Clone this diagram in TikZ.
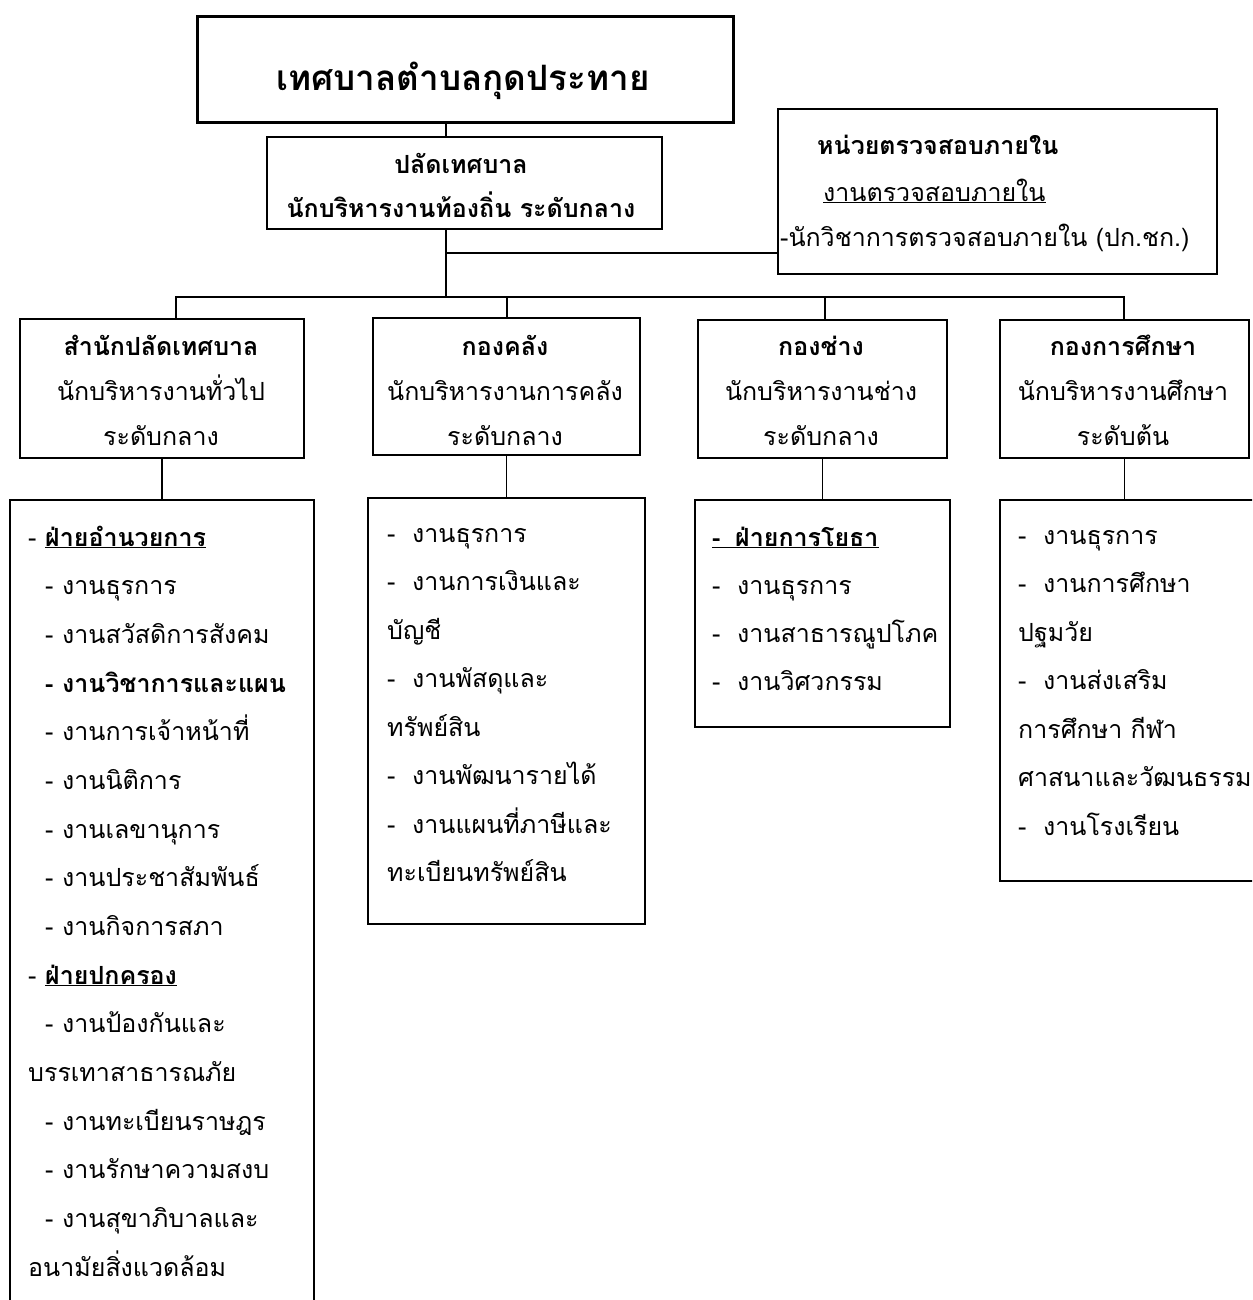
\documentclass[tikz,border=0pt]{standalone}
\usepackage{fontspec}
\setmainfont[Script=Thai]{Loma}
\newcommand\da{\makebox[17pt][l]{-}}
\newcommand\db{\makebox[25pt][l]{-}}
\begin{document}
\begin{tikzpicture}[x=1pt,y=-1pt,
  box/.style={draw, line width=2pt, inner sep=0pt, anchor=north west},
  thinbox/.style={draw, line width=1.6pt, inner sep=0pt, anchor=north west},
  ln/.style={line width=1.5pt},
  ct/.style={anchor=base, inner sep=0pt, font=\fontsize{25}{30}\selectfont},
  lt/.style={anchor=base west, inner sep=0pt, font=\fontsize{25}{30}\selectfont}]
\useasboundingbox (0,0) rectangle (1252,1300);
\fill[white] (0,0) rectangle (1252,1300);
\clip (0,0) rectangle (1252,1300);

% boxes
\node[box, line width=2.6pt, minimum width=536pt, minimum height=106pt] (top) at (196,15) {};
\node[box, minimum width=395pt, minimum height=92pt] (ppd) at (266,136) {};
\node[box, minimum width=439pt, minimum height=165pt] (aud) at (777,108) {};
\node[box, minimum width=284pt, minimum height=139pt] (b1) at (19,318) {};
\node[box, minimum width=267pt, minimum height=137pt] (b2) at (372,317) {};
\node[box, minimum width=249pt, minimum height=138pt] (b3) at (697,319) {};
\node[box, minimum width=249pt, minimum height=138pt] (b4) at (999,319) {};
\node[thinbox, minimum width=304pt, minimum height=900pt] (l1) at (9,499) {};
\node[thinbox, minimum width=277pt, minimum height=426pt] (l2) at (367,497) {};
\node[thinbox, minimum width=255pt, minimum height=227pt] (l3) at (694,499) {};
\node[thinbox, minimum width=300pt, minimum height=381pt] (l4) at (999,499) {};

% connectors
\coordinate (jt) at (446,297);
\coordinate (ja) at (446,253);
\coordinate (bl) at (176,297);
\coordinate (br) at (1124,297);
\coordinate (d2) at (507,297);
\coordinate (d3) at (825,297);
\draw[ln] (top.south -| jt) -- (ppd.north -| jt);
\draw[ln] (ppd.south -| jt) -- (jt);
\draw[ln] (ja) -- (ja -| aud.west);
\draw[ln] (bl |- b1.north) -- (bl) -- (br) -- (br |- b4.north);
\draw[ln] (d2) -- (d2 |- b2.north);
\draw[ln] (d3) -- (d3 |- b3.north);
\draw[ln] (b1.south) -- (b1.south |- l1.north);
\draw[ln] (b2.south) -- (b2.south |- l2.north);
\draw[ln] (b3.south) -- (b3.south |- l3.north);
\draw[ln] (b4.south) -- (b4.south |- l4.north);

% top texts
\node[ct, font=\fontsize{35}{40}\selectfont\bfseries] (tt) at (463,91) {เทศบาลตำบลกุดประทาย};
\node[ct, font=\fontsize{25}{30}\selectfont\bfseries] (pt1) at (461,174) {ปลัดเทศบาล};
\node[ct, font=\fontsize{25}{30}\selectfont\bfseries] (pt2) at (461,217) {นักบริหารงานท้องถิ่น ระดับกลาง};
\node[lt, font=\fontsize{25}{30}\selectfont\bfseries] (at1) at (817,155) {หน่วยตรวจสอบภายใน};
\node[lt] (at2) at (823,201) {\underline{งานตรวจสอบภายใน}};
\node[lt] (at3) at (780,246) {-นักวิชาการตรวจสอบภายใน (ปก.ชก.)};

% level-3 texts
\foreach \n/\cx/\ta/\tb/\tc in {1/161/สำนักปลัดเทศบาล/นักบริหารงานทั่วไป/ระดับกลาง,
  2/505/กองคลัง/นักบริหารงานการคลัง/ระดับกลาง,
  3/821/กองช่าง/นักบริหารงานช่าง/ระดับกลาง,
  4/1123/กองการศึกษา/นักบริหารงานศึกษา/ระดับต้น}{
  \node[ct, font=\fontsize{25}{30}\selectfont\bfseries] (h\n a) at (\cx,355) {\ta};
  \node[ct] (h\n b) at (\cx,400) {\tb};
  \node[ct] (h\n c) at (\cx,445) {\tc};
}

% list 1
\foreach \xx/\txt [count=\i] in {
  28/{\da\textbf{\underline{ฝ่ายอำนวยการ}}},
  45/{\da งานธุรการ},
  45/{\da งานสวัสดิการสังคม},
  45/{\textbf{\da งานวิชาการและแผน}},
  45/{\da งานการเจ้าหน้าที่},
  45/{\da งานนิติการ},
  45/{\da งานเลขานุการ},
  45/{\da งานประชาสัมพันธ์},
  45/{\da งานกิจการสภา},
  28/{\da\textbf{\underline{ฝ่ายปกครอง}}},
  45/{\da งานป้องกันและ},
  28/{บรรเทาสาธารณภัย},
  45/{\da งานทะเบียนราษฎร},
  45/{\da งานรักษาความสงบ},
  45/{\da งานสุขาภิบาลและ},
  28/{อนามัยสิ่งแวดล้อม}}{
  \pgfmathsetmacro\yy{546+48.67*(\i-1)}
  \node[lt] (la\i) at (\xx,\yy) {\txt};
}

% list 2
\foreach \txt [count=\i] in {
  {\db งานธุรการ}, {\db งานการเงินและ}, {บัญชี}, {\db งานพัสดุและ},
  {ทรัพย์สิน}, {\db งานพัฒนารายได้}, {\db งานแผนที่ภาษีและ}, {ทะเบียนทรัพย์สิน}}{
  \pgfmathsetmacro\yy{542+48.5*(\i-1)}
  \node[lt] (lb\i) at (387,\yy) {\txt};
}

% list 3
\foreach \txt [count=\i] in {
  {\textbf{\underline{\makebox[23pt][l]{-}ฝ่ายการโยธา}}}, {\db งานธุรการ},
  {\db งานสาธารณูปโภค}, {\db งานวิศวกรรม}}{
  \pgfmathsetmacro\yy{546+48*(\i-1)}
  \node[lt] (lc\i) at (712,\yy) {\txt};
}

% list 4
\foreach \txt [count=\i] in {
  {\db งานธุรการ}, {\db งานการศึกษา}, {ปฐมวัย}, {\db งานส่งเสริม},
  {การศึกษา กีฬา}, {ศาสนาและวัฒนธรรม}, {\db งานโรงเรียน}}{
  \pgfmathsetmacro\yy{544+48.5*(\i-1)}
  \node[lt] (ld\i) at (1018,\yy) {\txt};
}
\end{tikzpicture}
\end{document}
